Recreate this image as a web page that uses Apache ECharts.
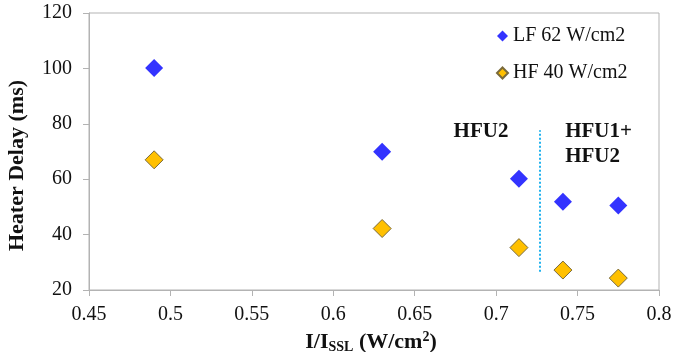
<!DOCTYPE html>
<html><head><meta charset="utf-8">
<script src="https://cdn.jsdelivr.net/npm/echarts@6/dist/echarts.min.js"></script>
<style>html,body{margin:0;padding:0;background:#fff}#c{width:673px;height:352px}</style>
</head><body><div id="c"></div>
<script>
const xValues = [0.49, 0.63, 0.714, 0.741, 0.775];
const lfValues = [100.1, 69.9, 60.2, 51.9, 50.5];
const hfValues = [67.0, 42.2, 35.3, 27.2, 24.3];
const lfName = 'LF 62 W/cm2';
const hfName = 'HF 40 W/cm2';
const dividerX = 0.727;
const dividerY = [26.6, 77.7];
const annotations = [
  {x: 0.6907, y: 77.2, text: 'HFU2', align: 'center'},
  {x: 0.7424, y: 77.2, text: 'HFU1+', align: 'left'},
  {x: 0.7424, y: 68.1, text: 'HFU2', align: 'left'}
];

const font = 'Liberation Serif';
const chart = echarts.init(document.getElementById('c'));
chart.setOption({
  animation: false,
  backgroundColor: '#fff',
  textStyle: {fontFamily: font},
  grid: {left: 89, right: 14, top: 13, bottom: 62, show: true, borderColor: '#b3b3b3', borderWidth: 1,
    containLabel: false, outerBoundsMode: 'none'},
  legend: {
    orient: 'vertical', left: 491, top: 21, itemGap: 17,
    itemWidth: 11, itemHeight: 11,
    textStyle: {fontFamily: font, fontSize: 20, color: '#111'},
    data: [{name: lfName, icon: 'diamond'}, {name: hfName, icon: 'diamond'}]
  },
  xAxis: {
    type: 'value', min: 0.45, max: 0.8, interval: 0.05,
    axisLine: {lineStyle: {color: '#b3b3b3'}},
    axisTick: {show: true, lineStyle: {color: '#b3b3b3'}, length: 6},
    splitLine: {show: false},
    axisLabel: {fontFamily: font, fontSize: 20, color: '#111', margin: 15,
      formatter: v => String(Math.round(v * 100) / 100)},
    name: '{n|I/I}{s|SSL}{n| (W/cm}{p|2}{n|)}',
    nameLocation: 'middle', nameGap: 40,
    nameTextStyle: {padding: [0, 6, 0, 0], rich: {
      n: {fontFamily: font, fontSize: 22, fontWeight: 'bold', color: '#111'},
      s: {fontFamily: font, fontSize: 14, fontWeight: 'bold', color: '#111', verticalAlign: 'bottom', padding: [10, 0, 0, 0]},
      p: {fontFamily: font, fontSize: 14, fontWeight: 'bold', color: '#111', verticalAlign: 'top', padding: [0, 0, 10, 0]}
    }}
  },
  yAxis: {
    type: 'value', min: 20, max: 120, interval: 20,
    axisLine: {show: true, lineStyle: {color: '#b3b3b3'}},
    axisTick: {show: true, lineStyle: {color: '#b3b3b3'}, length: 6},
    splitLine: {show: false},
    axisLabel: {fontFamily: font, fontSize: 20, color: '#111', margin: 17},
    name: 'Heater Delay (ms)', nameLocation: 'middle', nameGap: 61,
    nameTextStyle: {fontFamily: font, fontSize: 22, fontWeight: 'bold', color: '#111', padding: [0, 28, 0, 0]}
  },
  series: [
    {
      name: lfName, type: 'scatter', symbol: 'diamond', symbolSize: 18,
      itemStyle: {color: '#3333ff', opacity: 1},
      data: xValues.map((x, i) => [x, lfValues[i]]),
      markLine: {
        silent: true, symbol: 'none', label: {show: false},
        lineStyle: {color: '#22b2ee', type: [2, 2], width: 2},
        data: [[{coord: [dividerX, dividerY[0]]}, {coord: [dividerX, dividerY[1]]}]]
      },
      markPoint: {
        silent: true, symbol: 'circle', symbolSize: 0,
        label: {show: true, formatter: p => p.name, fontFamily: font, fontSize: 21, fontWeight: 'bold', color: '#111'},
        data: annotations.map(a => ({name: a.text, coord: [a.x, a.y], label: {align: a.align, position: 'inside'}}))
      }
    },
    {
      name: hfName, type: 'scatter', symbol: 'diamond', symbolSize: 18,
      itemStyle: {color: '#ffc000', borderColor: '#7a6a3a', borderWidth: 1, opacity: 1},
      data: xValues.map((x, i) => [x, hfValues[i]])
    }
  ]
});
</script></body></html>
